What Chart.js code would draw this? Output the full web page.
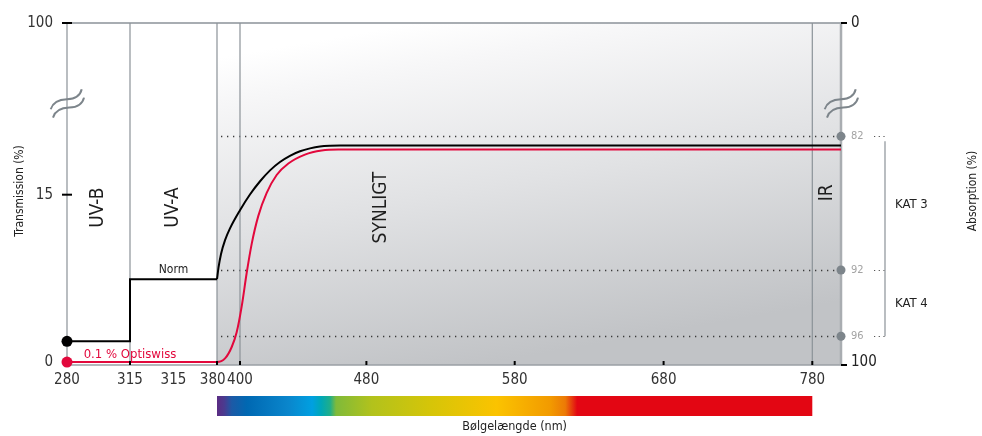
<!DOCTYPE html>
<html><head><meta charset="utf-8">
<script src="https://cdn.jsdelivr.net/npm/chart.js@4.4.1/dist/chart.umd.min.js"></script>
<style>html,body{margin:0;padding:0;background:#fff}#wrap{width:982px;height:436px;position:relative}</style>
</head><body><div id="wrap"><canvas id="c" width="982" height="436"></canvas></div>
<script>
// ---------- data ----------
const xTickNm = [280, 315, 347.5, 380, 400, 480, 580, 680, 780];
const xTickLabels = ['280', '315', '315', '380  ', '400', '480', '580', '680', '780'];
const leftTicksT = [0, 15, 100];
const rightTicksAbs = [0, 82, 92, 96, 100];
const katAbs = [82, 92, 96];
const katLabels = ['KAT 3', 'KAT 4'];
const regionBoundsNm = [315, 380, 400, 780];
const regionLabels = ['UV-B', 'UV-A', 'SYNLIGT', 'IR'];
const regionLabelNm = [297.5, 347.5, 490, 790];
const regionLabelT = [13.8, 13.8, 13.8, 15.1];

// "Norm" curve: transmission (%) versus wavelength (nm)
const normUvNm = [280, 315, 380];
const normUvT = [3.2, 7.44, 7.44];
const normVisNm = [380, 381.3, 383.5, 387.0, 391.3, 400, 406.3, 412.7, 419.0, 425.3, 431.6, 438.0, 444.3, 450.6, 457.0, 463.3, 800];
const normVisT = [7.44, 8.21, 9.49, 10.77, 11.87, 13.56, 15.01, 15.69, 16.25, 16.68, 17.0, 17.23, 17.38, 17.48, 17.52, 17.53, 17.53];
// "0.1 % Optiswiss" curve
const optiNm = [280, 380, 387.0, 392.8, 397.1, 401.1, 404.2, 407.4, 411.6, 416.9, 423.2, 430.6, 441.1, 451.7, 462.2, 800];
const optiT = [0, 0, 0.56, 2.33, 4.24, 5.82, 7.80, 10.43, 13.03, 15.09, 16.01, 16.6, 17.06, 17.27, 17.32, 17.32];

// ---------- schematic (broken) axis anchors ----------
const X_ANCHOR_NM = [280, 315, 380, 400, 480, 580, 680, 780, 800];
const X_ANCHOR_U = [0, 63, 150, 173, 299.4, 447.7, 596.6, 745.3, 774];
const Y_ANCHOR_T = [0, 4, 8, 15, 18, 100];
const Y_ANCHOR_U = [0, 26.3, 93.7, 170.3, 229.7, 345];

function interp(v, xs, ys) {
  if (v <= xs[0]) return ys[0] + (v - xs[0]) * (ys[1] - ys[0]) / (xs[1] - xs[0]);
  for (let i = 1; i < xs.length; i++) {
    if (v <= xs[i]) return ys[i - 1] + (v - xs[i - 1]) * (ys[i] - ys[i - 1]) / (xs[i] - xs[i - 1]);
  }
  const n = xs.length - 1;
  return ys[n] + (v - xs[n]) * (ys[n] - ys[n - 1]) / (xs[n] - xs[n - 1]);
}
const X = nm => interp(nm, X_ANCHOR_NM, X_ANCHOR_U);
const Y = t => interp(t, Y_ANCHOR_T, Y_ANCHOR_U);
const pts = (xs, ys) => xs.map((v, i) => ({ x: X(v), y: Y(ys[i]) }));

const FONT = "'Liberation Sans Narrow','DejaVu Sans Condensed','Liberation Sans',sans-serif";
const RED = '#e2083c';
const GRAY = '#8b9298';
const DOTGRAY = '#7d858b';

const decor = {
  id: 'decor',
  beforeDatasetsDraw(chart) {
    const { ctx, chartArea: a, scales: { x, y } } = chart;
    const px = nm => x.getPixelForValue(X(nm));
    const py = t => y.getPixelForValue(Y(t));
    ctx.save();
    const x0 = px(380);
    const g = ctx.createLinearGradient(x0 + 200, a.top, x0 + 260, a.bottom);
    g.addColorStop(0, '#ffffff');
    g.addColorStop(0.12, '#f7f7f8');
    g.addColorStop(0.5, '#e1e2e4');
    g.addColorStop(1, '#c1c3c6');
    ctx.fillStyle = g;
    ctx.fillRect(x0, a.top, a.right - x0, a.bottom - a.top);
    // dotted absorption lines
    ctx.strokeStyle = '#3a3a3a';
    ctx.lineWidth = 1.3;
    ctx.setLineDash([1.3, 4.7]);
    katAbs.forEach(A => {
      const yy = Math.round(py(100 - A)) + 0.5;
      ctx.beginPath(); ctx.moveTo(x0 + 4, yy); ctx.lineTo(a.right, yy); ctx.stroke();
    });
    ctx.setLineDash([]);
    // vertical region boundaries
    ctx.strokeStyle = GRAY;
    ctx.lineWidth = 1.2;
    [a.left].concat(regionBoundsNm.map(px)).forEach(xx => {
      ctx.beginPath(); ctx.moveTo(xx, a.top); ctx.lineTo(xx, a.bottom); ctx.stroke();
    });
    ctx.lineWidth = 1.5;
    ctx.beginPath(); ctx.moveTo(a.left, a.top); ctx.lineTo(a.right, a.top); ctx.stroke();
    ctx.strokeStyle = '#9a9fa4';
    ctx.beginPath(); ctx.moveTo(a.left, a.bottom); ctx.lineTo(a.right, a.bottom); ctx.stroke();
    ctx.strokeStyle = '#a9adb1';
    ctx.lineWidth = 2.5;
    ctx.beginPath(); ctx.moveTo(a.right, a.top); ctx.lineTo(a.right, a.bottom); ctx.stroke();
    ctx.restore();
  },
  afterDatasetsDraw(chart) {
    const { ctx, chartArea: a, scales: { x, y } } = chart;
    const px = nm => x.getPixelForValue(X(nm));
    const py = t => y.getPixelForValue(Y(t));
    ctx.save();
    // tick marks
    ctx.strokeStyle = '#000';
    ctx.lineWidth = 2;
    xTickNm.forEach((nm, i) => {
      if (i === 0 || i === 2) return;
      const xx = px(nm);
      ctx.beginPath(); ctx.moveTo(xx, a.bottom - 4); ctx.lineTo(xx, a.bottom); ctx.stroke();
    });
    [100, 15].forEach(t => {
      const yy = py(t);
      ctx.beginPath(); ctx.moveTo(a.left - 5, yy); ctx.lineTo(a.left + 5, yy); ctx.stroke();
    });
    [a.top, a.bottom].forEach(yy => {
      ctx.beginPath(); ctx.moveTo(a.right, yy); ctx.lineTo(a.right + 6, yy); ctx.stroke();
    });
    // absorption markers on right border
    ctx.fillStyle = DOTGRAY;
    katAbs.forEach(A => {
      ctx.beginPath(); ctx.arc(a.right, py(100 - A), 4.5, 0, Math.PI * 2); ctx.fill();
    });
    // bracket of KAT categories
    const bx = a.right + 44;
    ctx.strokeStyle = '#555';
    ctx.lineWidth = 1.2;
    ctx.setLineDash([1.2, 3.5]);
    katAbs.forEach(A => {
      const yy = Math.round(py(100 - A)) + 0.5;
      ctx.beginPath(); ctx.moveTo(bx - 11, yy); ctx.lineTo(bx + 1, yy); ctx.stroke();
    });
    ctx.setLineDash([]);
    ctx.strokeStyle = GRAY;
    ctx.beginPath(); ctx.moveTo(bx, py(100 - katAbs[0]) + 5); ctx.lineTo(bx, py(100 - katAbs[2])); ctx.stroke();
    ctx.fillStyle = '#222';
    ctx.font = '13px ' + FONT;
    ctx.textAlign = 'left'; ctx.textBaseline = 'middle';
    katLabels.forEach((lab, i) => {
      const ym = (py(100 - katAbs[i]) + py(100 - katAbs[i + 1])) / 2;
      ctx.fillText(lab, bx + 10, ym + 1);
    });
    // axis break symbols
    const brk = (ax, ay) => {
      ctx.strokeStyle = DOTGRAY; ctx.lineWidth = 2;
      for (const [dx, dy] of [[0, 0], [2.3, 8.3]]) {
        const sx = ax + dx, sy = ay + dy;
        ctx.beginPath();
        ctx.moveTo(sx - 16.3, sy + 6.3);
        ctx.bezierCurveTo(sx - 14, sy - 1, sx - 7, sy - 3.5, sx, sy - 3.7);
        ctx.bezierCurveTo(sx + 7, sy - 4, sx + 13, sy - 6, sx + 14.7, sy - 13.7);
        ctx.stroke();
      }
    };
    brk(a.left, a.top + 80);
    brk(a.right, a.top + 80);
    // region labels (rotated)
    ctx.fillStyle = '#1e1e1e';
    ctx.font = '19px ' + FONT;
    ctx.textAlign = 'center'; ctx.textBaseline = 'middle';
    regionLabels.forEach((lab, i) => {
      ctx.save();
      ctx.translate(px(regionLabelNm[i]), py(regionLabelT[i]));
      ctx.rotate(-Math.PI / 2);
      ctx.fillText(lab, 0, 0);
      ctx.restore();
    });
    // curve labels
    ctx.font = '12px ' + FONT;
    ctx.fillStyle = '#222';
    ctx.textBaseline = 'alphabetic';
    ctx.fillText('Norm', px(347.5), py(normUvT[1]) - 6);
    ctx.fillStyle = RED;
    ctx.font = '13px ' + FONT;
    ctx.fillText('0.1 % Optiswiss', px(315), py(0) - 4);
    // axis titles
    ctx.fillStyle = '#222';
    ctx.font = '12px ' + FONT;
    ctx.textBaseline = 'middle';
    ctx.save(); ctx.translate(20, 191); ctx.rotate(-Math.PI / 2); ctx.fillText('Transmission (%)', 0, 0); ctx.restore();
    ctx.save(); ctx.translate(973, 191); ctx.rotate(-Math.PI / 2); ctx.fillText('Absorption (%)', 0, 0); ctx.restore();
    // spectrum bar
    const s0 = px(380), s1 = px(780);
    const sg = ctx.createLinearGradient(s0, 0, s1, 0);
    [[0, '#5b2c83'], [0.012, '#4b3a8f'], [0.025, '#1c5aa6'], [0.05, '#0068b2'], [0.12, '#0a86cc'],
     [0.16, '#00a0e1'], [0.175, '#00a7b6'], [0.19, '#1fae8a'], [0.2, '#7fba3a'], [0.26, '#b2c21c'],
     [0.36, '#d6c508'], [0.47, '#fbc300'], [0.56, '#f29a00'], [0.585, '#ec7a06'], [0.598, '#e5300f'],
     [0.605, '#e30613'], [1, '#e30613']].forEach(([o, c]) => sg.addColorStop(o, c));
    ctx.fillStyle = sg;
    ctx.fillRect(s0, a.bottom + 31, s1 - s0, 20);
    ctx.fillStyle = '#222';
    ctx.font = '12.5px ' + FONT;
    ctx.textAlign = 'center';
    ctx.fillText('Bølgelængde (nm)', (s0 + s1) / 2, a.bottom + 62);
    ctx.restore();
  }
};

const isBig = i => i === 0 || i === rightTicksAbs.length - 1;

new Chart(document.getElementById('c'), {
  type: 'line',
  data: {
    datasets: [
      { label: '0.1 % Optiswiss', data: pts(optiNm, optiT), borderColor: RED, borderWidth: 2,
        cubicInterpolationMode: 'monotone', pointRadius: c => c.dataIndex === 0 ? 5.5 : 0,
        pointBackgroundColor: RED, pointBorderWidth: 0, clip: false, order: 0 },
      { label: 'Norm', data: pts(normUvNm, normUvT), stepped: true, borderColor: '#000', borderWidth: 2,
        pointRadius: c => c.dataIndex === 0 ? 5.5 : 0, pointBackgroundColor: '#000', pointBorderWidth: 0,
        clip: false, order: 1 },
      { label: 'Norm', data: pts(normVisNm, normVisT), borderColor: '#000', borderWidth: 2,
        cubicInterpolationMode: 'monotone', pointRadius: 0, clip: false, order: 1 }
    ]
  },
  options: {
    responsive: false, animation: false, events: [],
    layout: { padding: { top: 17, left: 0, right: 0, bottom: 0 } },
    plugins: { legend: { display: false }, tooltip: { enabled: false } },
    scales: {
      x: {
        type: 'linear', min: 0, max: X(800),
        afterFit(s) { s.height = 71; },
        afterBuildTicks(s) { s.ticks = xTickNm.map(n => ({ value: X(n) })); },
        ticks: { autoSkip: false, maxRotation: 0, minRotation: 0, padding: 6, color: '#333',
          font: { family: FONT, size: 15 }, callback: (v, i) => xTickLabels[i] },
        grid: { display: false, drawTicks: false }, border: { display: false }
      },
      y: {
        type: 'linear', position: 'left', min: -3, max: 345,
        afterFit(s) { s.width = 67; },
        afterBuildTicks(s) { s.ticks = leftTicksT.map(t => ({ value: Y(t) })); },
        ticks: { padding: 14, color: '#333', font: { family: FONT, size: 15 },
          callback: (v, i) => String(leftTicksT[i]) },
        grid: { display: false, drawTicks: false }, border: { display: false }
      },
      y2: {
        type: 'linear', position: 'right', min: -3, max: 345,
        afterFit(s) { s.width = 141; },
        afterBuildTicks(s) { s.ticks = rightTicksAbs.map(A => ({ value: Y(100 - A) })); },
        ticks: { padding: 10,
          color: c => isBig(c.index) ? '#222' : '#a3a3a3',
          font: c => ({ family: FONT, size: isBig(c.index) ? 15 : 11 }),
          callback: (v, i) => String(rightTicksAbs[i]) },
        grid: { display: false, drawTicks: false }, border: { display: false }
      }
    }
  },
  plugins: [decor]
});
</script>
</body></html>
